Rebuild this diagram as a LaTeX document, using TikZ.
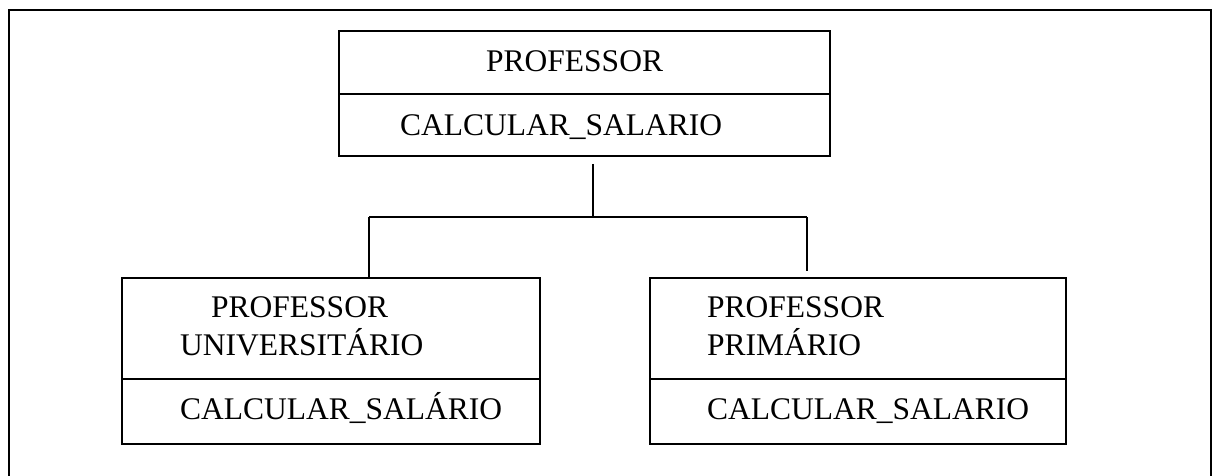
\documentclass[tikz,border=0pt]{standalone}
\usepackage{fontspec}
\setmainfont{Liberation Serif}
\begin{document}
\begin{tikzpicture}[x=1pt,y=-1pt,
  box/.style={draw=black,line width=2pt,minimum width=#1,anchor=north west,inner sep=0pt},
  lbl/.style={anchor=base west,inner sep=0pt,font=\fontsize{31.5}{37}\selectfont},
  conn/.style={draw=black,line width=2pt},
  frameline/.style={draw=black,line width=2pt}]
\useasboundingbox (0,0) rectangle (1213,476);
% outer frame (open at the bottom edge)
\draw[frameline] (9,477) -- (9,10.5) -- (1210.5,10.5) -- (1210.5,477);
% class boxes
\node[box=491pt,minimum height=125pt] (top) at (338,30) {};
\node[box=418pt,minimum height=166pt] (left) at (121,277) {};
\node[box=416pt,minimum height=166pt] (right) at (649,277) {};
% dividers
\draw[conn] (top.west |- 0,94) -- (top.east |- 0,94);
\draw[conn] (left.west |- 0,379) -- (left.east |- 0,379);
\draw[conn] (right.west |- 0,379) -- (right.east |- 0,379);
% texts
\node[lbl] (t1) at (486,72) {PROFESSOR};
\node[lbl] (t2) at (400,136) {CALCULAR\_SALARIO};
\node[lbl] (l1) at (211,317) {PROFESSOR};
\node[lbl] (l2) at (180,355) {UNIVERSITÁRIO};
\node[lbl] (l3) at (180,419) {CALCULAR\_SALÁRIO};
\node[lbl] (r1) at (707,317) {PROFESSOR};
\node[lbl] (r2) at (707,355) {PRIMÁRIO};
\node[lbl] (r3) at (707,419) {CALCULAR\_SALARIO};
% connectors
\coordinate (ts) at (593,164);
\coordinate (jn) at (593,217);
\coordinate (lj) at (369,217);
\coordinate (rj) at (807,217);
\coordinate (re) at (807,271);
\draw[conn] (ts) -- (jn);
\draw[conn] (lj) -- (rj);
\draw[conn] (lj) -- (lj |- left.north);
\draw[conn] (rj) -- (re);
\end{tikzpicture}
\end{document}
